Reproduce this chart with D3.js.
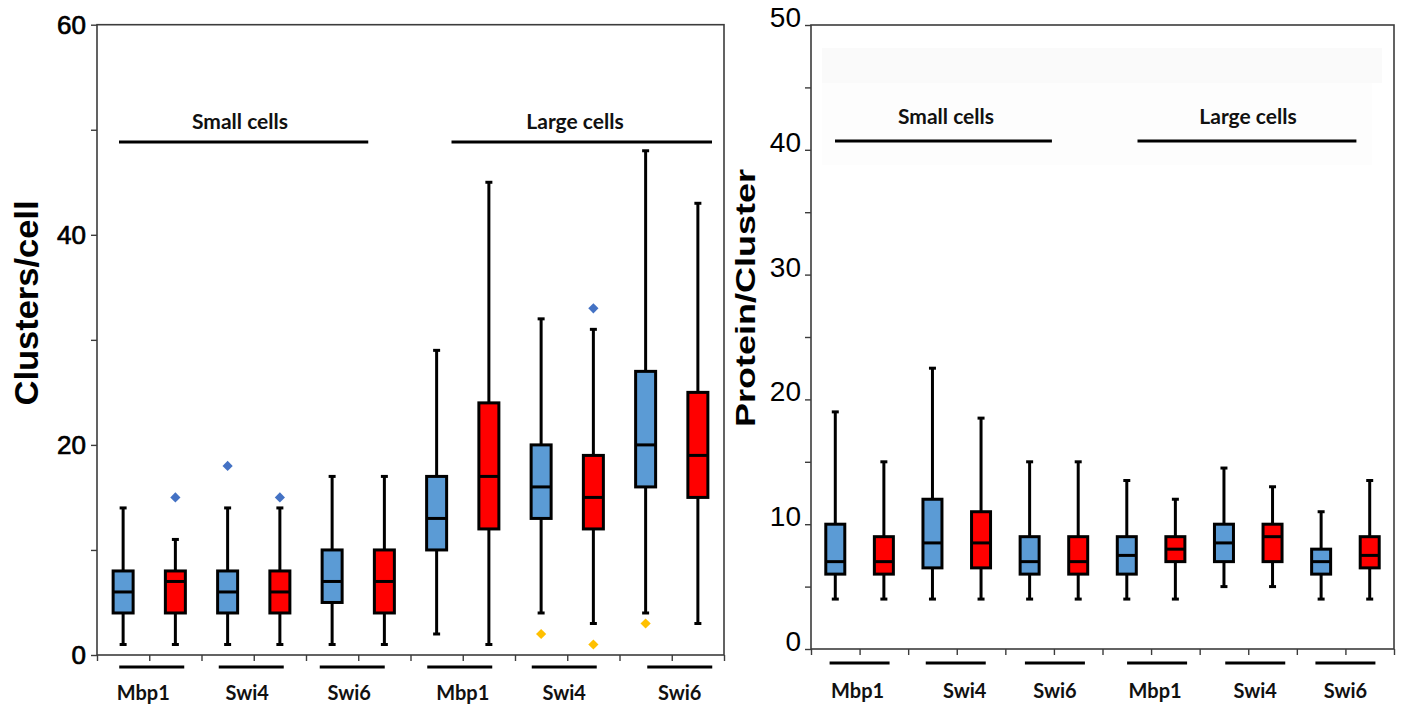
<!DOCTYPE html>
<html lang="en">
<head>
<meta charset="UTF-8">
<title>Clusters per cell and protein per cluster</title>
<script src="https://d3js.org/d3.v7.min.js"></script>
<style>
  body { margin: 0; background: #fff; }
  svg { display: block; }
</style>
</head>
<body>
<div id="chart"></div>
<script>
// six groups along x, two boxes each (blue, red)
const proteins = ["Mbp1", "Swi4", "Swi6", "Mbp1", "Swi4", "Swi6"];
const cellSizes = ["Small cells", "Large cells"];
const variants = ["blue", "red"];

// Clusters/cell, one value per box (group by group, blue then red)
const clustersMin = [1, 1, 1, 1, 1, 1, 2, 1, 4, 3, 4, 3];
const clustersQ1 = [4, 4, 4, 4, 5, 4, 10, 12, 13, 12, 16, 15];
const clustersMed = [6, 7, 6, 6, 7, 7, 13, 17, 16, 15, 20, 19];
const clustersQ3 = [8, 8, 8, 8, 10, 10, 17, 24, 20, 19, 27, 25];
const clustersMax = [14, 11, 14, 14, 17, 17, 29, 45, 32, 31, 48, 43];
// outliers: [box index, value, kind]
const clustersOutliers = [[1, 15, "high"], [2, 18, "high"], [3, 15, "high"],
  [8, 2, "low"], [9, 33, "high"], [9, 1, "low"], [10, 3, "low"]];

// Protein/Cluster
const proteinMin = [4, 4, 4, 4, 4, 4, 4, 4, 5, 5, 4, 4];
const proteinQ1 = [6, 6, 6.5, 6.5, 6, 6, 6, 7, 7, 7, 6, 6.5];
const proteinMed = [7, 7, 8.5, 8.5, 7, 7, 7.5, 8, 8.5, 9, 7, 7.5];
const proteinQ3 = [10, 9, 12, 11, 9, 9, 9, 9, 10, 10, 8, 9];
const proteinMax = [19, 15, 22.5, 18.5, 15, 15, 13.5, 12, 14.5, 13, 11, 13.5];
const proteinOutliers = [];

const boxFill = { blue: "#5B9BD5", red: "#FF0000" };
const dotFill = { high: "#4472C4", low: "#FFC000" };

const svg = d3.select("#chart").append("svg")
  .attr("width", 1401).attr("height", 708);
svg.append("rect").attr("width", 1401).attr("height", 708).attr("fill", "#fff");

function drawPanel(cfg) {
  const n = cfg.min.length;
  const x = d3.scaleBand().domain(d3.range(n)).range([cfg.x0, cfg.x1]);
  const edge = d3.scaleLinear().domain([0, n]).range([cfg.x0, cfg.x1]);
  const y = d3.scaleLinear().domain([0, cfg.yMax]).range([cfg.bottom, cfg.top]);
  const g = svg.append("g");

  if (cfg.shade) {
    cfg.shade.forEach(s => g.append("rect")
      .attr("x", s[0]).attr("y", s[1]).attr("width", s[2] - s[0]).attr("height", s[3] - s[1])
      .attr("fill", s[4]));
  }

  // frame
  g.append("rect")
    .attr("x", cfg.x0).attr("y", cfg.top)
    .attr("width", cfg.x1 - cfg.x0).attr("height", cfg.bottom - cfg.top)
    .attr("fill", "none").attr("stroke", "#3c3c3c").attr("stroke-width", 1.6);

  // y axis
  const ya = g.append("g").attr("transform", `translate(${cfg.x0},0)`)
    .call(d3.axisLeft(y)
      .tickValues(d3.range(0, cfg.yMax + 0.1, cfg.minor))
      .tickSize(6).tickPadding(cfg.pad)
      .tickFormat(d => d % cfg.major === 0 ? d : ""));
  ya.select(".domain").remove();
  ya.selectAll(".tick line").attr("stroke", "#3c3c3c").attr("stroke-width", 1.4);
  ya.selectAll(".tick text")
    .attr("font-family", "Liberation Sans, Arial, sans-serif")
    .attr("font-size", cfg.tickFont).attr("fill", "#000")
    .attr("stroke", cfg.tickStroke ? "#000" : null).attr("stroke-width", cfg.tickStroke || null)
    .attr("dy", cfg.labelDy);

  // x boundary ticks
  const xa = g.append("g").attr("transform", `translate(0,${cfg.bottom})`)
    .call(d3.axisBottom(edge).tickValues(d3.range(0, n + 1)).tickSize(6).tickFormat(""));
  xa.select(".domain").remove();
  xa.selectAll(".tick line").attr("stroke", "#3c3c3c").attr("stroke-width", 1.4);

  // y title
  g.append("text")
    .attr("transform", `translate(${cfg.titleX},${cfg.titleY}) rotate(-90)`)
    .attr("text-anchor", "middle").attr("dominant-baseline", "central")
    .attr("font-family", "Liberation Sans, Arial, sans-serif")
    .attr("font-weight", "bold").attr("font-size", cfg.titleFont)
    .attr("textLength", cfg.titleLen).attr("lengthAdjust", "spacingAndGlyphs")
    .text(cfg.title);

  // boxes
  const bw = cfg.boxW;
  const boxes = g.selectAll("g.box").data(d3.range(n)).join("g").attr("class", "box")
    .attr("transform", i => `translate(${x(i) + x.bandwidth() / 2},0)`);
  boxes.append("line")
    .attr("y1", i => y(cfg.min[i])).attr("y2", i => y(cfg.max[i]))
    .attr("stroke", "#000").attr("stroke-width", 3);
  boxes.append("line")
    .attr("x1", -3.5).attr("x2", 3.5)
    .attr("y1", i => y(cfg.max[i])).attr("y2", i => y(cfg.max[i]))
    .attr("stroke", "#000").attr("stroke-width", 3);
  boxes.append("line")
    .attr("x1", -3.5).attr("x2", 3.5)
    .attr("y1", i => y(cfg.min[i])).attr("y2", i => y(cfg.min[i]))
    .attr("stroke", "#000").attr("stroke-width", 3);
  boxes.append("rect")
    .attr("x", -bw / 2).attr("width", bw)
    .attr("y", i => y(cfg.q3[i])).attr("height", i => y(cfg.q1[i]) - y(cfg.q3[i]))
    .attr("fill", i => boxFill[variants[i % 2]])
    .attr("stroke", "#000").attr("stroke-width", 3);
  boxes.append("line")
    .attr("x1", -bw / 2).attr("x2", bw / 2)
    .attr("y1", i => y(cfg.med[i])).attr("y2", i => y(cfg.med[i]))
    .attr("stroke", "#000").attr("stroke-width", 3);

  // outliers
  const diamond = d3.symbol(d3.symbolSquare, 52);
  g.selectAll("path.outlier").data(cfg.outliers).join("path").attr("class", "outlier")
    .attr("d", diamond)
    .attr("transform", d => `translate(${x(d[0]) + x.bandwidth() / 2},${y(d[1])}) rotate(45)`)
    .attr("fill", d => dotFill[d[2]]);

  // group underlines + protein names
  proteins.forEach((p, k) => {
    const c = edge(2 * k + 1);
    g.append("line")
      .attr("x1", c + cfg.lineShift[k] - cfg.underW / 2).attr("x2", c + cfg.lineShift[k] + cfg.underW / 2)
      .attr("y1", cfg.underY).attr("y2", cfg.underY)
      .attr("stroke", "#000").attr("stroke-width", 3.2);
    g.append("text")
      .attr("x", c + cfg.labelShift[k]).attr("y", cfg.nameY)
      .attr("text-anchor", "middle")
      .attr("font-family", "Lato, sans-serif").attr("font-weight", "bold")
      .attr("font-size", 20).attr("fill", "#111")
      .text(p);
  });

  // section headers
  cellSizes.forEach((s, k) => {
    const [a, b] = cfg.sections[k];
    g.append("line")
      .attr("x1", edge(a[0]) + a[1]).attr("x2", edge(b[0]) + b[1])
      .attr("y1", cfg.sectionY).attr("y2", cfg.sectionY)
      .attr("stroke", "#000").attr("stroke-width", 3.2);
    g.append("text")
      .attr("x", cfg.sectionTextX[k]).attr("y", cfg.sectionTextY)
      .attr("text-anchor", "middle")
      .attr("font-family", "Lato, sans-serif").attr("font-weight", "bold")
      .attr("font-size", 21).attr("fill", "#111")
      .text(s);
  });
}

drawPanel({
  min: clustersMin, q1: clustersQ1, med: clustersMed, q3: clustersQ3, max: clustersMax,
  outliers: clustersOutliers,
  x0: 97, x1: 724, top: 24.7, bottom: 655, yMax: 60, minor: 10, major: 20,
  pad: 5, tickFont: 26, tickStroke: 0.7, labelDy: "0.32em",
  title: "Clusters/cell", titleX: 26, titleY: 303, titleFont: 33, titleLen: 205,
  boxW: 20,
  lineShift: [2.5, -2.5, -6, -3, -3, 8], labelShift: [-6, -6.5, -9, 0, -3, 8],
  underW: 65, underY: 667, nameY: 700,
  sections: [[[0, 22], [5, 10]], [[6, 41], [12, -12]]],
  sectionY: 142, sectionTextX: [240, 575], sectionTextY: 129
});

drawPanel({
  min: proteinMin, q1: proteinQ1, med: proteinMed, q3: proteinQ3, max: proteinMax,
  outliers: proteinOutliers,
  x0: 811, x1: 1394, top: 25, bottom: 649, yMax: 50, minor: 5, major: 10,
  pad: 4, tickFont: 28, tickStroke: 0, labelDy: "0.05em",
  title: "Protein/Cluster", titleX: 745, titleY: 298, titleFont: 28, titleLen: 258,
  boxW: 19,
  lineShift: [0, -1, 1, 6, 7, 0], labelShift: [-2, 8, 1, 4, 7, 0],
  underW: 60, underY: 663, nameY: 698,
  sections: [[[0, 24], [5, -2]], [[6, 35], [11, 11]]],
  sectionY: 141, sectionTextX: [946, 1248], sectionTextY: 124,
  shade: [[822, 48, 1382, 83, "#fafafa"], [822, 83, 1372, 165, "#fdfdfd"]]
});
</script>
</body>
</html>
